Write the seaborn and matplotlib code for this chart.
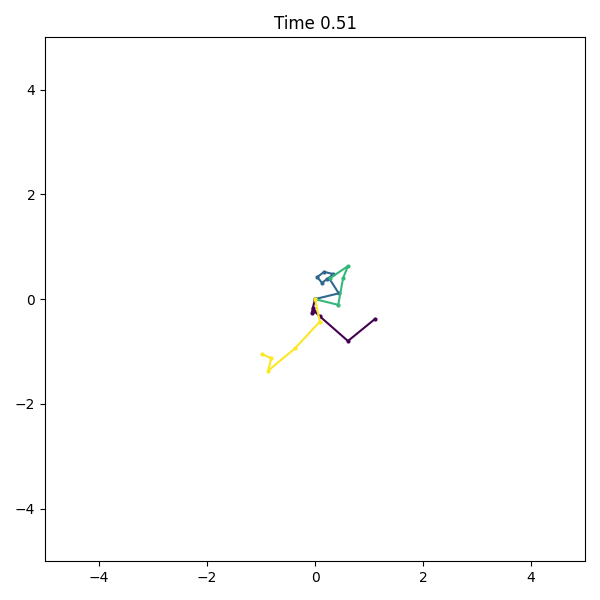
import numpy as np
import pandas as pd
import matplotlib
matplotlib.use("Agg")
import matplotlib.pyplot as plt
import seaborn as sns

# =======================
# Walk positions at t = 0.51
# =======================
walk_a_x = [0.0, -0.04, -0.06, -0.02, 0.09, 0.61, 1.11]
walk_a_y = [0.0, -0.17, -0.27, -0.22, -0.33, -0.80, -0.38]

walk_b_x = [0.0, 0.44, 0.26, 0.33, 0.17, 0.04, 0.13, 0.22]
walk_b_y = [0.0, 0.11, 0.40, 0.48, 0.52, 0.42, 0.31, 0.38]

walk_c_x = [0.0, 0.43, 0.52, 0.61, 0.28]
walk_c_y = [0.0, -0.11, 0.40, 0.63, 0.40]

walk_d_x = [0.0, 0.09, -0.37, -0.87, -0.81, -0.98]
walk_d_y = [0.0, -0.43, -0.94, -1.37, -1.13, -1.05]

title = "Time 0.51"

walks = [(walk_a_x, walk_a_y), (walk_b_x, walk_b_y),
         (walk_c_x, walk_c_y), (walk_d_x, walk_d_y)]
rows = []
for i, (xs, ys) in enumerate(walks):
    for step, (x, y) in enumerate(zip(xs, ys)):
        rows.append({"walk": i, "step": step, "x": x, "y": y})
df = pd.DataFrame(rows)

colors = [plt.cm.viridis(v) for v in np.linspace(0, 1, len(walks))]

fig, ax = plt.subplots(figsize=(6, 6), dpi=100)
sns.lineplot(
    data=df, x="x", y="y", hue="walk", units="walk", estimator=None,
    sort=False, palette=colors, marker="o", markersize=3,
    markeredgewidth=0, linewidth=1.5, legend=False, ax=ax
)
ax.set_xlim(-5, 5)
ax.set_ylim(-5, 5)
ax.set_xlabel("")
ax.set_ylabel("")
ax.set_title(title)
plt.subplots_adjust(left=0.075, right=0.975, bottom=0.065, top=0.938)
plt.savefig("out.png")
